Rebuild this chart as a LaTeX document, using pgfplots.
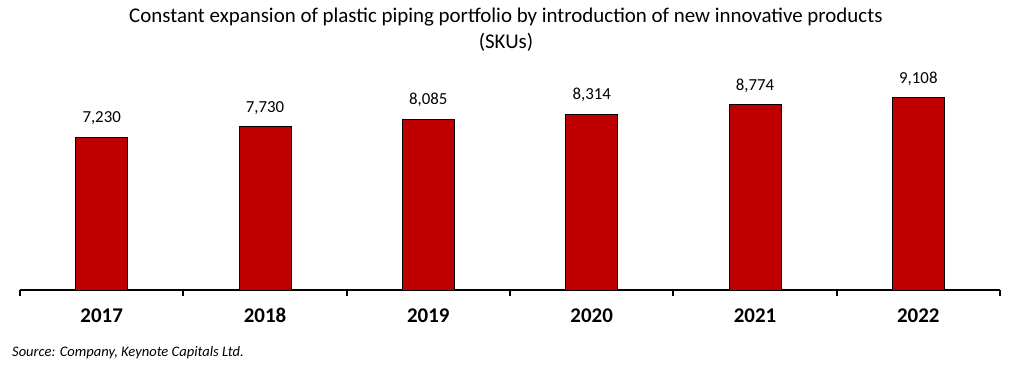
\documentclass[border=0pt]{standalone}
\usepackage{pgfplots}
\pgfplotsset{compat=1.18}
\usepackage{fontspec}
\setmainfont{Carlito}
\definecolor{barred}{HTML}{C00000}
\begin{document}
\begin{tikzpicture}[x=1bp,y=1bp]
\useasboundingbox[fill=white] (0,0) rectangle (1025,366);
\node[font=\fontsize{21}{26}\selectfont, align=center] at (506,336) {Constant expansion of plastic piping portfolio by introduction of new innovative products\\(SKUs)};
\node[font=\itshape\fontsize{14.6}{15}\selectfont, anchor=west, inner sep=0] at (12,13) {Source: Company, Keynote Capitals Ltd.};
\begin{axis}[
  at={(20bp,76bp)}, anchor=south west,
  scale only axis, width=980bp, height=211bp,
  xmin=-0.5, xmax=5.5, ymin=0, ymax=10000,
  axis x line=bottom, axis y line=none,
  axis line style={black, line width=2bp, -},
  xtick={0,1,2,3,4,5},
  xticklabels={2017,2018,2019,2020,2021,2022},
  major tick length=0pt,
  minor xtick={-0.5,0.5,1.5,2.5,3.5,4.5,5.5},
  minor tick length=6bp,
  tick align=outside,
  minor tick style={black, line width=2bp},
  xticklabel style={font=\bfseries\fontsize{21}{21}\selectfont, anchor=base, yshift=-32bp},
  ybar, bar width=52bp,
  nodes near coords,
  /pgf/number format/.cd, 1000 sep={,}, assume math mode=true,
  /pgfplots/.cd,
  nodes near coords style={font=\fontsize{16.9}{17}\selectfont, anchor=south, inner sep=0pt, yshift=12bp},
  clip=false,
]
\addplot[fill=barred, draw=black, line width=0.9bp] coordinates {(0,7230) (1,7730) (2,8085) (3,8314) (4,8774) (5,9108)};
\end{axis}
\end{tikzpicture}
\end{document}
